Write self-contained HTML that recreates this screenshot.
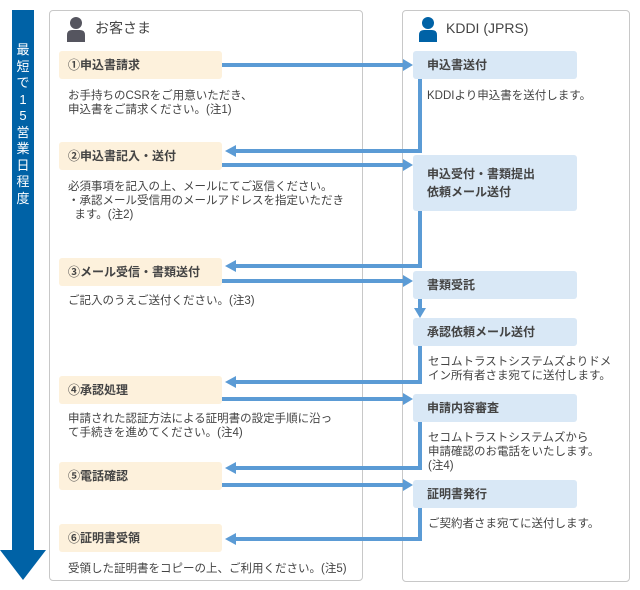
<!DOCTYPE html>
<html><head><meta charset="utf-8"><style>
body{margin:0;width:640px;height:590px;background:#fff;position:relative;overflow:hidden;font-family:"Liberation Sans","Noto Sans CJK JP",sans-serif;color:#444}
.a{position:absolute}
.panel{position:absolute;border:1px solid #c8c8c8;border-radius:4px;background:#fff}
.lb{position:absolute;left:59px;width:163px;height:28px;background:#fdf1dc;border-radius:3px;font-weight:bold;font-size:12px;line-height:28px;padding-left:9px;box-sizing:border-box;color:#444}
.rb{position:absolute;left:413px;width:164px;background:#d9e8f6;border-radius:3px;font-weight:bold;font-size:12px;line-height:28px;padding-left:14px;box-sizing:border-box;color:#444}
.t{position:absolute;font-size:11.5px;line-height:14px;color:#444;white-space:nowrap}
</style></head><body>
<div class="a" style="left:12px;top:10px;width:22px;height:545px;background:#0062a6"></div>
<svg class="a" style="left:0;top:550px" width="48" height="32"><polygon points="0,0 46,0 23,30" fill="#0062a6"/></svg>
<div class="a" style="left:14px;top:42px;width:18px;color:#fff;font-size:13px;line-height:16.5px;text-align:center">最<br>短<br>で<br>1<br>5<br>営<br>業<br>日<br>程<br>度</div>

<div class="panel" style="left:49px;top:10px;width:312px;height:569px"></div>
<div class="panel" style="left:402px;top:10px;width:226px;height:570px"></div>

<svg class="a" style="left:66px;top:16px" width="20" height="26"><circle cx="10" cy="7" r="6" fill="#55555f"/><path d="M1,26 L1,19 Q1,14 6,14 L14,14 Q19,14 19,19 L19,26Z" fill="#55555f"/></svg>
<div class="t" style="left:95px;top:21px;font-size:14px">お客さま</div>
<svg class="a" style="left:418px;top:16px" width="20" height="26"><circle cx="10" cy="7" r="6" fill="#0062a6"/><path d="M1,26 L1,19 Q1,14 6,14 L14,14 Q19,14 19,19 L19,26Z" fill="#0062a6"/></svg>
<div class="t" style="left:446px;top:21px;font-size:14px">KDDI (JPRS)</div>

<div class="lb" style="top:51px">①申込書請求</div>
<div class="lb" style="top:142px">②申込書記入・送付</div>
<div class="lb" style="top:258px">③メール受信・書類送付</div>
<div class="lb" style="top:376px">④承認処理</div>
<div class="lb" style="top:462px">⑤電話確認</div>
<div class="lb" style="top:524px">⑥証明書受領</div>

<div class="t" style="left:68px;top:89px">お手持ちのCSRをご用意いただき、<br>申込書をご請求ください。(注1)</div>
<div class="t" style="left:68px;top:180px">必須事項を記入の上、メールにてご返信ください。<br>・承認メール受信用のメールアドレスを指定いただき<br>&nbsp;&nbsp;ます。(注2)</div>
<div class="t" style="left:68px;top:294px">ご記入のうえご送付ください。(注3)</div>
<div class="t" style="left:68px;top:412px">申請された認証方法による証明書の設定手順に沿っ<br>て手続きを進めてください。(注4)</div>
<div class="t" style="left:68px;top:562px">受領した証明書をコピーの上、ご利用ください。(注5)</div>

<div class="rb" style="top:51px;height:28px">申込書送付</div>
<div class="rb" style="top:155px;height:56px;line-height:18px;padding-top:10px">申込受付・書類提出<br>依頼メール送付</div>
<div class="rb" style="top:271px;height:28px">書類受託</div>
<div class="rb" style="top:318px;height:28px">承認依頼メール送付</div>
<div class="rb" style="top:394px;height:28px">申請内容審査</div>
<div class="rb" style="top:480px;height:28px">証明書発行</div>

<div class="t" style="left:427px;top:89px">KDDIより申込書を送付します。</div>
<div class="t" style="left:428px;top:355px">セコムトラストシステムズよりドメ<br>イン所有者さま宛てに送付します。</div>
<div class="t" style="left:428px;top:431px">セコムトラストシステムズから<br>申請確認のお電話をいたします。<br>(注4)</div>
<div class="t" style="left:428px;top:517px">ご契約者さま宛てに送付します。</div>

<svg class="a" style="left:0;top:0" width="640" height="590">
<g stroke="#5b9bd5" stroke-width="4" fill="none">
<line x1="222" y1="65" x2="404" y2="65"/>
<line x1="222" y1="165" x2="404" y2="165"/>
<line x1="222" y1="281" x2="404" y2="281"/>
<line x1="222" y1="399" x2="404" y2="399"/>
<line x1="222" y1="485" x2="404" y2="485"/>
<polyline points="420,79 420,151 236,151"/>
<polyline points="420,211 420,266 236,266"/>
<polyline points="420,346 420,382 236,382"/>
<polyline points="420,422 420,468 236,468"/>
<polyline points="420,508 420,539 236,539"/>
<line x1="420" y1="299" x2="420" y2="309"/>
</g>
<g fill="#5b9bd5">
<polygon points="413,65 403,59 403,71"/>
<polygon points="413,165 403,159 403,171"/>
<polygon points="413,281 403,275 403,287"/>
<polygon points="413,399 403,393 403,405"/>
<polygon points="413,485 403,479 403,491"/>
<polygon points="225,151 236,145 236,157"/>
<polygon points="225,266 236,260 236,272"/>
<polygon points="225,382 236,376 236,388"/>
<polygon points="225,468 236,462 236,474"/>
<polygon points="225,539 236,533 236,545"/>
<polygon points="420,318 414,308 426,308"/>
</g>
</svg>
</body></html>
